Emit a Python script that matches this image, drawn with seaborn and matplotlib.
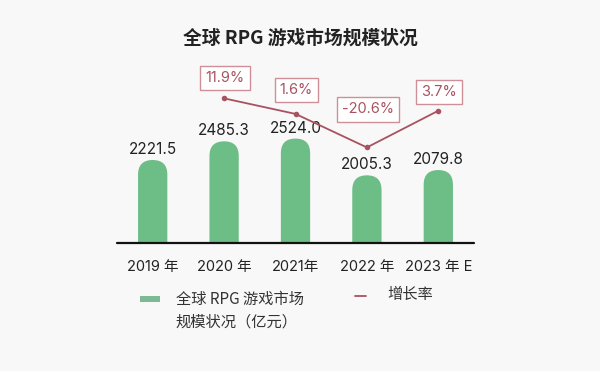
import matplotlib
matplotlib.use('Agg')
import matplotlib.pyplot as plt
import seaborn as sns
import pandas as pd
from matplotlib.patches import FancyBboxPatch, Rectangle
from matplotlib.lines import Line2D

# ── Data ─────────────────────────────────────────────────────────────────────
years = ['2019 年', '2020 年', '2021年', '2022 年', '2023 年 E']
market_size = [2221.5, 2485.3, 2524.0, 2005.3, 2079.8]      # 亿元
growth_years = ['2020 年', '2021年', '2022 年', '2023 年 E']
growth_rate = [11.9, 1.6, -20.6, 3.7]                         # %

# ── Style ────────────────────────────────────────────────────────────────────
BAR_GREEN = '#6dbd86'
LINE_RED = '#a9525f'
BOX_EDGE = '#cf8f98'
TEXT_DARK = '#222222'
BG = '#f8f8f8'
NUM_FONT = ['Inter', 'Noto Sans CJK SC', 'DejaVu Sans']

sns.set_theme(style='white')
plt.rcParams['font.family'] = ['Noto Sans CJK SC', 'DejaVu Sans']
plt.rcParams['axes.unicode_minus'] = False

df = pd.DataFrame({'year': years, 'size': market_size})
gdf = pd.DataFrame({'year': growth_years, 'rate': growth_rate})

fig = plt.figure(figsize=(6.0, 3.71), dpi=100, facecolor=BG)
ax = fig.add_axes([0.195, 0.345, 0.595, 0.49])
ax.set_facecolor('none')

sns.barplot(data=df, x='year', y='size', color=BAR_GREEN, width=0.41,
            saturation=1, ax=ax, zorder=2)
ax.set_xlim(-0.5, 4.5)
ax.set_ylim(1050, 3616)

# swap the square bars for round-topped ones
fig.canvas.draw()
px_x = ax.transData.transform((1, 0))[0] - ax.transData.transform((0, 0))[0]
px_y = ax.transData.transform((0, 1))[1] - ax.transData.transform((0, 0))[1]
for bar in list(ax.patches):
    x, w, h = bar.get_x(), bar.get_width(), bar.get_height()
    bar.remove()
    r = w / 2
    ax.add_patch(FancyBboxPatch((x, 0), w, h,
                                boxstyle=f'round,pad=0,rounding_size={r}',
                                mutation_aspect=px_x / px_y,
                                facecolor=BAR_GREEN, edgecolor='none', zorder=2))
    ax.annotate(f'{h:.1f}', (x + w / 2, h), xytext=(0, 3),
                textcoords='offset pixels', ha='center', va='bottom',
                fontsize=11, color=TEXT_DARK, family=NUM_FONT, zorder=5)

ax.axhline(1050, color='#111111', lw=1.6, zorder=3, clip_on=False)
sns.despine(ax=ax, left=True, bottom=True)
ax.set_yticks([])
ax.set_xlabel('')
ax.set_ylabel('')
ax.tick_params(axis='x', length=0, pad=12, labelsize=10.5, labelcolor=TEXT_DARK)
for lab in ax.get_xticklabels():
    lab.set_family(NUM_FONT)

# growth rate line on a twin axis
ax2 = ax.twinx()
sns.lineplot(x=[years.index(y) for y in gdf['year']], y=gdf['rate'],
             color=LINE_RED, lw=1.3, marker='o', markersize=4,
             markeredgewidth=0, ax=ax2, zorder=4)
ax2.set_ylim(-83.9, 36.5)
ax2.set_xlim(-0.5, 4.5)
ax2.axis('off')

label_offsets = [20, 24, 38, 19]   # pixels above each point
for yr, rate, off in zip(gdf['year'], gdf['rate'], label_offsets):
    ax2.annotate(f'{rate:.1f}%', (years.index(yr), rate),
                 xytext=(1, off), textcoords='offset pixels',
                 ha='center', va='center', fontsize=10.5, color=LINE_RED,
                 family=NUM_FONT,
                 bbox=dict(boxstyle='square,pad=0.35', fc='white',
                           ec=BOX_EDGE, lw=1))

fig.text(0.5, 0.897, '全球 RPG 游戏市场规模状况', ha='center', va='center',
         fontsize=13.5, fontweight='bold', color=TEXT_DARK)

# legend, laid out by hand to match the two-line label
fig.add_artist(Rectangle((0.233, 0.186), 0.034, 0.016, transform=fig.transFigure,
                         facecolor='#7fb894', edgecolor='none'))
fig.text(0.293, 0.163, '全球 RPG 游戏市场\n规模状况（亿元）', ha='left', va='center',
         fontsize=11, color='#333333', linespacing=1.45)
fig.add_artist(Line2D([0.592, 0.61], [0.202, 0.202], transform=fig.transFigure,
                      color=LINE_RED, lw=1.3))
fig.text(0.645, 0.205, '增长率', ha='left', va='center',
         fontsize=11, color='#333333')

fig.savefig('out.png', dpi=100, facecolor=BG)
